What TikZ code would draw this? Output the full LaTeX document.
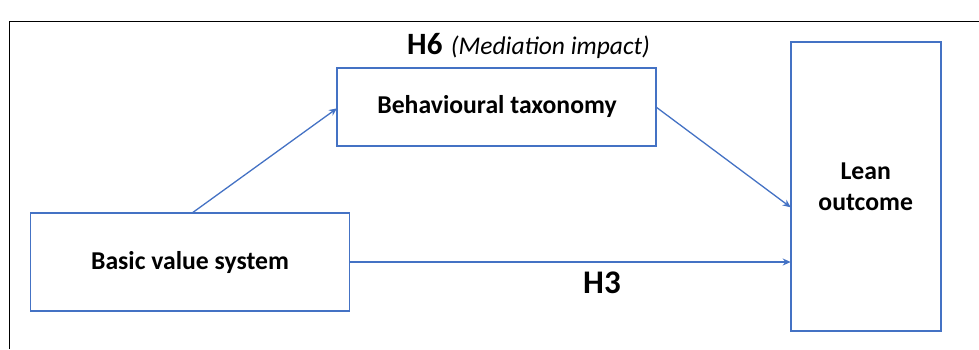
\documentclass[tikz,border=0pt]{standalone}
\usepackage{fontspec}
\setmainfont{Carlito}
\usetikzlibrary{arrows.meta}
\definecolor{boxblue}{HTML}{4472C4}
\tikzset{
  x=1pt, y=-1pt,
  varbox/.style={draw=boxblue, line width=1.6pt, fill=white, inner sep=0pt},
  link/.style={draw=boxblue, line width=1.3pt, -{Stealth[length=8pt,width=7pt]}},
  boxtext/.style={font=\fontsize{25.7}{31}\selectfont\bfseries, align=center},
}
\begin{document}
\begin{tikzpicture}
  \useasboundingbox (0,0) rectangle (979,349);
  % frame around the figure
  \draw[line width=1.2pt, black] (9.4,349) -- (9.4,21.8) -- (979,21.8);

  % variables
  \node[varbox, minimum width=319pt, minimum height=78pt] (bt) at (496.5,107) {};
  \node[varbox, minimum width=150pt, minimum height=289pt] (lo) at (865.7,186.4) {};
  \node[varbox, minimum width=319pt, minimum height=98pt] (bv) at (190,262) {};

  \node[boxtext] (btl) at (497,106) {Behavioural taxonomy};
  \node[boxtext] (lol) at (865.7,187) {Lean\\outcome};
  \node[boxtext] (bvl) at (190,262) {Basic value system};

  % paths
  \coordinate (a1) at (192.5,212.7);
  \coordinate (b1) at (337,108.3);
  \coordinate (a2) at (656,107);
  \coordinate (b2) at (790.7,207.3);
  \coordinate (a3) at (349.3,262);
  \coordinate (b3) at (790.7,262);
  \draw[link] (a1) -- (b1);
  \draw[link] (a2) -- (b2);
  \draw[link] (a3) -- (b3);

  % hypothesis labels
  \node[anchor=base west, inner sep=0pt, font=\fontsize{31}{34}\selectfont\bfseries] (h6) at (407,54) {H6};
  \node[anchor=base west, inner sep=0pt, font=\fontsize{25.5}{30}\selectfont\itshape] (med) at ([xshift=8pt]h6.base east) {(Mediation impact)};
  \node[anchor=base west, inner sep=0pt, font=\fontsize{33}{35}\selectfont\bfseries] (h3) at (583,293) {H3};
\end{tikzpicture}
\end{document}
